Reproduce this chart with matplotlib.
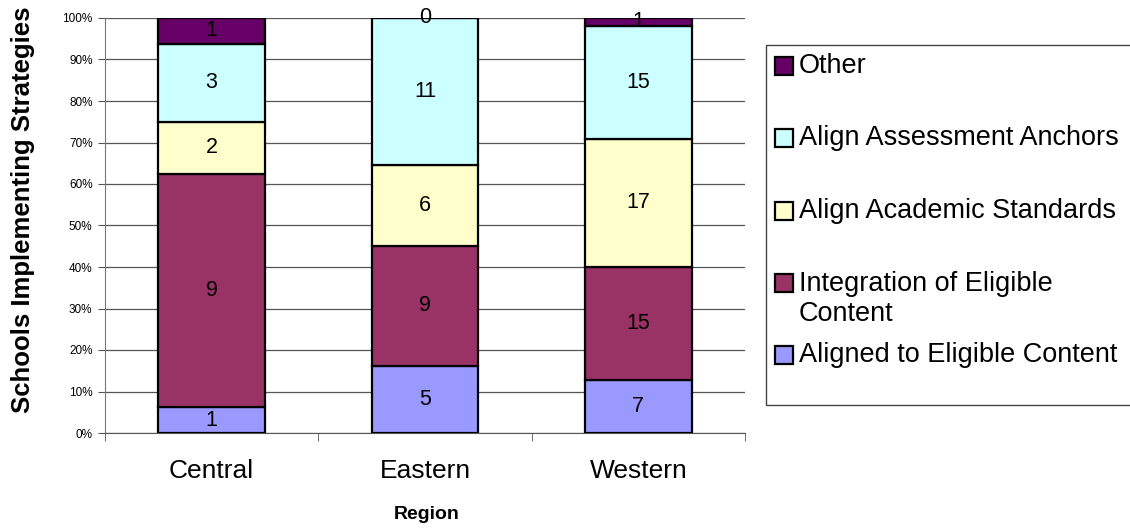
import matplotlib
matplotlib.use("Agg")
import matplotlib.pyplot as plt
from matplotlib.patches import Rectangle
import numpy as np

plt.rcParams['font.family'] = ['Liberation Sans', 'DejaVu Sans']

regions = ["Central", "Eastern", "Western"]
series_names = ["Aligned to Eligible Content", "Integration of Eligible\nContent",
                "Align Academic Standards", "Align Assessment Anchors", "Other"]
aligned = [1, 5, 7]
integration = [9, 9, 15]
academic = [2, 6, 17]
anchors = [3, 11, 15]
other = [1, 0, 1]
colors = ["#9999FF", "#993366", "#FFFFCC", "#CCFFFF", "#660066"]
yticks = [0, 10, 20, 30, 40, 50, 60, 70, 80, 90, 100]

W, H = 1130, 531
data = np.array([aligned, integration, academic, anchors, other], dtype=float)
totals = data.sum(axis=0)
pct = data / totals * 100

fig = plt.figure(figsize=(W / 100, H / 100), dpi=100)
ax = fig.add_axes([105 / W, 1 - 433 / H, 640 / W, 415 / H])

x = np.arange(len(regions))
bottom = np.zeros(len(regions))
for i in range(len(series_names)):
    ax.bar(x, pct[i], 0.5, bottom=bottom, color=colors[i], edgecolor='black',
           linewidth=1.6, zorder=3)
    for j in range(len(regions)):
        yc = bottom[j] + pct[i][j] / 2
        ax.text(x[j], yc, f"{int(data[i][j])}", ha='center', va='center',
                fontsize=15.5, color='black', zorder=5)
    bottom += pct[i]

ax.set_xlim(-0.5, 2.5)
ax.set_ylim(0, 100)
ax.set_yticks(yticks)
ax.set_yticklabels([f"{t}%" for t in yticks], fontsize=8.5)
ax.yaxis.grid(True, color='#555555', linewidth=0.9, zorder=0)
ax.set_axisbelow(True)
ax.set_xticks(x)
ax.set_xticklabels(regions, fontsize=19)
ax.tick_params(axis='x', length=0, pad=19)
ax.set_xticks([-0.5, 0.5, 1.5, 2.5], minor=True)
ax.tick_params(axis='x', which='minor', length=6, direction='out', color='#555555')
ax.tick_params(axis='y', length=5, direction='out', color='#555555', pad=4)
for s in ['top', 'right']:
    ax.spines[s].set_visible(False)
ax.spines['left'].set_color('#777777')
ax.spines['bottom'].set_color('#555555')

fig.text(23 / W, 1 - 210 / H, "Schools Implementing Strategies", rotation=90,
         ha='center', va='center', fontsize=18.5, fontweight='bold')
fig.text(427 / W, 1 - 519 / H, "Region", ha='center', va='baseline',
         fontsize=14, fontweight='bold')

# legend (manual, Excel-style evenly spaced slots)
fig.patches.append(Rectangle((766 / W, 1 - 405 / H), 380 / W, 360 / H,
                             transform=fig.transFigure, facecolor='white',
                             edgecolor='#444444', linewidth=1.0))
slot_centers = [66, 138, 211, 283, 355]
order = [4, 3, 2, 1, 0]
for yc, idx in zip(slot_centers, order):
    fig.patches.append(Rectangle((775 / W, 1 - (yc + 9) / H), 18 / W, 18 / H,
                                 transform=fig.transFigure, facecolor=colors[idx],
                                 edgecolor='black', linewidth=1.6))
    label = series_names[idx]
    ty = yc + (16 if '\n' in label else 0)
    fig.text(799 / W, 1 - ty / H, label, ha='left', va='center',
             fontsize=19.5, linespacing=1.17)

fig.savefig("out.png", dpi=100)
